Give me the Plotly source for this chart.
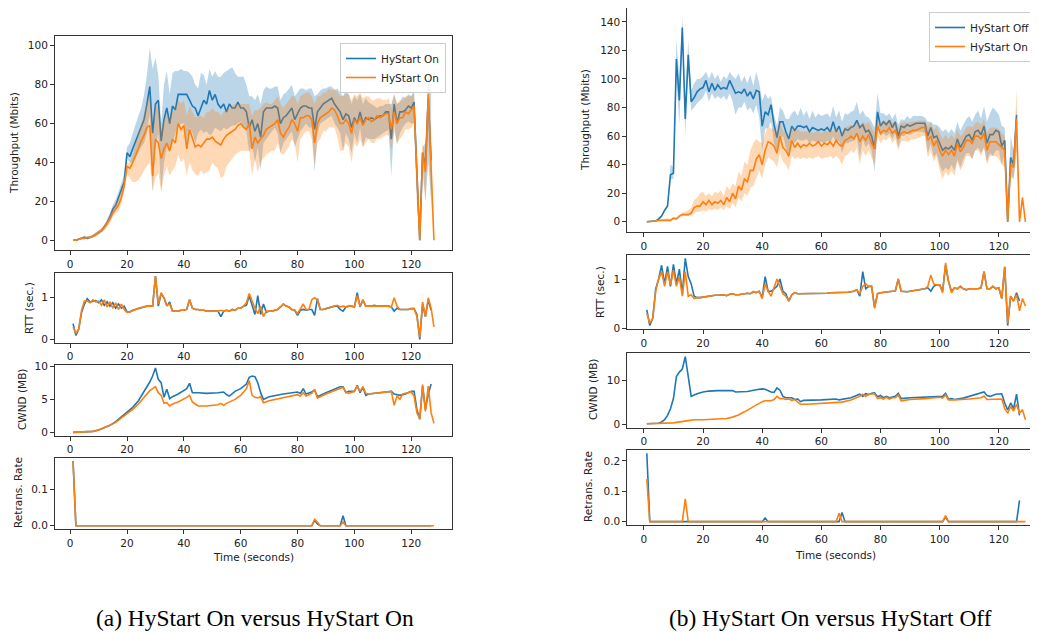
import plotly.graph_objects as go

# ---------------- Panel (a): HyStart On vs HyStart On ----------------
THR_A1_MEAN = [
    0, 0, 0.5, 1, 1.5, 1, 1.5, 2, 3, 4,
    5, 7, 9, 12, 16, 18, 22, 27, 30, 45,
    43, 47, 51, 55, 58, 62, 70, 79, 55, 70,
    72, 51, 62, 68, 60, 69, 67, 75, 75, 75,
    75, 72, 69, 68, 64, 68, 72, 70, 77, 72,
    75, 70, 68, 70, 66, 70, 68, 68, 71, 68,
    68, 66, 58, 62, 56, 60, 53, 66, 68, 68,
    68, 69, 68, 60, 63, 64, 66, 68, 62, 65,
    68, 69, 69, 68, 68, 57, 66, 68, 70, 71,
    72, 73, 70, 68, 66, 62, 65, 64, 58, 63,
    60, 66, 60, 63, 62, 63, 62, 63, 64, 64,
    66, 66, 52, 70, 60, 66, 66, 67, 69, 68,
    71, 35, 0, 45, 38, 73, 41]
THR_A1_HI = [
    0.5, 0.5, 1, 1.5, 2.5, 1.5, 2, 3, 4, 5,
    6, 8, 11, 14, 18, 21, 25, 30, 34, 48,
    50, 55, 60, 64, 68, 75, 85, 99, 88, 94,
    85, 60, 80, 87, 75, 86, 87, 87, 88, 87,
    87, 86, 84, 80, 78, 86, 85, 80, 88, 84,
    87, 84, 84, 86, 87, 88, 89, 86, 84, 84,
    84, 80, 74, 74, 72, 75, 70, 77, 79, 78,
    78, 79, 79, 72, 75, 76, 78, 80, 74, 76,
    78, 78, 77, 78, 78, 74, 75, 77, 78, 78,
    79, 79, 77, 78, 76, 74, 77, 75, 70, 74,
    72, 75, 70, 73, 71, 70, 69, 68, 69, 69,
    70, 70, 70, 75, 70, 71, 74, 73, 75, 74,
    77, 40, 0, 48, 50, 85, 77]
THR_A1_LO = [
    0, 0, 0, 0.5, 1, 0.5, 1, 1.5, 2, 3,
    4, 6, 7.5, 10, 14, 16, 19, 24, 27, 42,
    40, 40, 42, 45, 48, 50, 55, 65, 25, 48,
    55, 25, 40, 48, 45, 50, 55, 58, 60, 60,
    50, 58, 55, 50, 55, 57, 55, 56, 54, 55,
    58, 57, 56, 58, 57, 58, 59, 59, 60, 61,
    58, 56, 45, 50, 40, 48, 36, 50, 52, 54,
    56, 58, 55, 45, 50, 52, 54, 56, 48, 52,
    56, 58, 60, 58, 58, 35, 55, 60, 61, 62,
    63, 64, 60, 58, 55, 46, 55, 52, 45, 55,
    50, 58, 48, 53, 52, 52, 52, 53, 54, 55,
    56, 57, 33, 60, 49, 55, 58, 60, 61, 60,
    60, 20, 0, 40, 20, 40, 20]

THR_A2_MEAN = [
    0, 0, 0.5, 1, 1, 1.5, 1.5, 2, 3, 4,
    5, 6.5, 8.5, 11, 14, 16, 18, 22, 28, 38,
    37, 40, 44, 48, 51, 54, 58, 59, 33, 52,
    50, 42, 47, 50, 46, 52, 50, 60, 57, 59,
    47, 57, 52, 48, 49, 48, 50, 52, 52, 53,
    51, 50, 49, 52, 54, 55, 56, 57, 59, 60,
    58, 57, 60, 47, 53, 50, 52, 54, 57, 58,
    59, 60, 62, 55, 53, 56, 58, 62, 60, 56,
    63, 63, 64, 64, 62, 50, 60, 63, 64, 65,
    66, 68, 67, 64, 60, 60, 62, 60, 55, 62,
    60, 63, 59, 62, 63, 61, 62, 64, 63, 64,
    65, 65, 57, 66, 60, 63, 63, 66, 65, 67,
    69, 35, 0, 45, 35, 75, 40, 0]
THR_A2_HI = [
    0.5, 0.5, 1, 1.5, 1.5, 2, 2, 3, 4, 5,
    6, 8, 10, 13, 16, 19, 22, 26, 31, 40,
    40, 44, 50, 55, 60, 65, 70, 76, 55, 70,
    68, 57, 62, 65, 62, 66, 68, 72, 70, 72,
    64, 69, 66, 63, 64, 64, 63, 66, 66, 68,
    66, 66, 64, 66, 67, 68, 69, 70, 70, 70,
    70, 70, 70, 64, 67, 67, 68, 70, 71, 70,
    70, 72, 74, 70, 68, 70, 72, 74, 74, 70,
    74, 75, 76, 76, 74, 70, 74, 74, 76, 76,
    78, 77, 78, 76, 74, 74, 75, 75, 72, 75,
    74, 76, 73, 74, 74, 72, 72, 73, 73, 72,
    72, 73, 68, 75, 70, 72, 72, 74, 74, 74,
    76, 38, 0, 50, 45, 86, 55, 0]
THR_A2_LO = [
    0, 0, 0, 0.5, 0.5, 1, 1, 1.5, 2, 3,
    4, 5, 7, 9, 12, 14, 15, 19, 25, 34,
    32, 30, 30, 31, 33, 36, 38, 40, 25, 32,
    35, 25, 33, 38, 33, 36, 38, 44, 40, 42,
    33, 40, 36, 34, 33, 36, 34, 35, 36, 40,
    38, 37, 32, 33, 38, 40, 42, 44, 45, 46,
    46, 46, 46, 33, 42, 35, 40, 42, 44, 45,
    46, 46, 50, 45, 44, 46, 48, 52, 50, 40,
    52, 54, 56, 56, 52, 38, 50, 52, 56, 56,
    58, 58, 58, 53, 46, 46, 50, 48, 40, 50,
    48, 52, 48, 50, 52, 50, 50, 52, 52, 53,
    54, 54, 46, 56, 50, 52, 54, 57, 57, 58,
    60, 20, 0, 35, 20, 60, 20, 0]

RTT_A1 = [
    0.38, 0.1, 0.25, 0.65, 0.85, 0.98, 0.9, 0.92, 0.93, 0.88,
    0.95, 0.82, 0.9, 0.8, 0.88, 0.75, 0.85, 0.75, 0.8, 0.66,
    0.66, 0.7, 0.72, 0.75, 0.77, 0.79, 0.8, 0.8, 0.8, 1.52,
    0.8, 1.1, 1.0, 0.8, 0.9, 0.68, 0.68, 0.68, 0.7, 0.7,
    0.72, 0.95, 0.75, 0.72, 0.72, 0.7, 0.7, 0.68, 0.68, 0.68,
    0.68, 0.68, 0.55, 0.68, 0.7, 0.68, 0.72, 0.7, 0.75, 0.75,
    0.8, 0.82, 1.05, 0.85, 0.6, 1.05, 0.6, 0.85, 0.65, 0.68,
    0.68, 0.7, 0.72, 0.78, 0.85, 0.8, 0.78, 0.72, 0.7, 0.58,
    0.7, 0.72, 0.7, 0.72, 0.72, 0.58, 0.98, 0.72, 0.72, 0.74,
    0.76, 0.78, 0.8, 0.8, 0.72, 0.68, 0.78, 0.8, 0.8, 0.78,
    1.12, 0.78, 0.95, 0.8, 0.8, 0.8, 0.82, 0.8, 0.8, 0.8,
    0.8, 0.8, 0.78, 0.68, 0.75, 0.72, 0.72, 0.72, 0.72, 0.74,
    0.74, 0.6, 0.0, 0.85, 0.55, 0.95, 0.7]
RTT_A2 = [
    0.3, 0.15, 0.25, 0.7, 0.92, 0.92, 0.88, 0.95, 0.9, 0.92,
    0.82, 0.95, 0.78, 0.9, 0.75, 0.88, 0.72, 0.85, 0.72, 0.65,
    0.66, 0.7, 0.72, 0.75, 0.77, 0.79, 0.8, 0.8, 0.8, 1.52,
    0.85, 1.12, 1.0, 0.82, 0.85, 0.68, 0.68, 0.68, 0.7, 0.7,
    0.72, 0.95, 0.75, 0.72, 0.72, 0.7, 0.7, 0.68, 0.68, 0.68,
    0.68, 0.68, 0.7, 0.68, 0.7, 0.68, 0.72, 0.7, 0.75, 0.75,
    0.8, 0.88, 1.1, 0.9, 0.75, 0.62, 0.8, 0.55, 0.68, 0.68,
    0.68, 0.7, 0.72, 0.78, 0.85, 0.8, 0.78, 0.72, 0.7, 0.62,
    0.72, 0.85, 0.72, 0.72, 0.95, 1.0, 0.95, 0.72, 0.72, 0.74,
    0.76, 0.78, 0.8, 0.82, 0.78, 0.8, 0.78, 0.8, 0.8, 0.78,
    1.05, 0.8, 0.95, 0.8, 0.8, 0.8, 0.8, 0.8, 0.8, 0.8,
    0.8, 0.8, 0.78, 1.0, 0.8, 0.72, 0.72, 0.72, 0.72, 0.74,
    0.74, 0.55, 0.05, 0.9, 0.55, 1.0, 0.75, 0.3]

CWND_A1_T = [1, 5, 8, 10, 12, 14, 16, 18, 20, 22, 24, 26, 28, 29, 30, 31, 32, 33, 34, 35,
             36, 38, 40, 41, 42, 43, 45, 48, 52, 54, 55, 56, 58, 60, 62, 63, 64, 65, 66, 67,
             68, 70, 75, 80, 81, 82, 83, 85, 86, 87, 90, 95, 96, 97, 98, 100, 101, 102, 103, 104,
             105, 110, 113, 114, 116, 118, 120, 121, 122, 123, 124, 125, 126, 127]
CWND_A1 = [0.05, 0.1, 0.2, 0.4, 0.7, 1.1, 1.65, 2.35, 3.05, 3.8, 4.8, 6.1, 7.6, 8.5, 9.7, 8.0, 7.5, 5.3, 6.5, 5.1,
           5.4, 5.8, 6.3, 6.6, 7.4, 6.0, 6.0, 5.9, 6.0, 6.1, 5.7, 5.5, 6.2, 6.6, 7.3, 8.3, 8.5, 8.4, 7.5, 6.0,
           5.0, 5.4, 5.8, 6.1, 5.9, 6.6, 5.8, 6.1, 6.4, 5.4, 6.0, 6.9, 6.9, 6.0, 6.2, 6.2, 7.1, 6.0, 6.8, 5.6,
           5.8, 6.0, 6.2, 5.8, 5.6, 5.8, 6.2, 6.2, 3.5, 2.0, 7.0, 3.5, 5.8, 7.3]
CWND_A2_T = [1, 5, 8, 10, 12, 14, 16, 18, 20, 22, 24, 26, 28, 29, 30, 31, 32, 33, 34, 35,
             36, 38, 40, 41, 42, 43, 44, 45, 48, 52, 53, 54, 55, 58, 60, 62, 63, 64, 65, 66,
             67, 68, 70, 75, 80, 81, 82, 83, 85, 86, 87, 90, 95, 96, 97, 98, 100, 101, 102, 103,
             104, 105, 113, 114, 115, 116, 117, 119, 120, 121, 122, 123, 124, 125, 126, 127, 128]
CWND_A2 = [0.05, 0.1, 0.2, 0.4, 0.7, 1.1, 1.55, 2.2, 2.8, 3.5, 4.3, 5.3, 6.3, 6.6, 6.9, 6.0, 5.6, 4.4, 4.5, 4.0,
           4.3, 4.6, 5.0, 5.3, 5.6, 4.6, 4.3, 4.0, 4.0, 4.2, 4.4, 4.1, 4.4, 5.0, 5.6, 6.6, 7.8, 5.6, 5.3, 5.2,
           5.4, 4.5, 4.8, 5.3, 5.7, 5.5, 6.0, 5.5, 5.9, 6.5, 5.2, 5.8, 6.6, 6.8, 6.1, 5.9, 6.2, 7.0, 6.2, 6.9,
           5.9, 5.8, 6.2, 4.1, 5.5, 5.0, 5.8, 6.0, 6.1, 5.5, 3.0, 2.1, 7.2, 3.2, 7.0, 3.0, 1.4]

RET_A1_T = [1, 2, 85, 86, 87, 88, 95, 96, 97, 127]
RET_A1 = [0.18, 0, 0, 0.015, 0.005, 0, 0, 0.028, 0, 0]
RET_A2_T = [1, 2, 85, 86, 87, 88, 95, 96, 97, 128]
RET_A2 = [0.18, 0, 0, 0.018, 0.01, 0, 0, 0.01, 0, 0]

# ---------------- Panel (b): HyStart Off vs HyStart On ----------------
THR_B1_MEAN = [
    0, 0, 0, 0.5, 2, 4, 8, 11, 33, 34,
    114, 85, 136, 72, 117, 84, 87, 91, 93, 94,
    99, 91, 97, 92, 96, 93, 94, 93, 99, 94,
    90, 91, 90, 93, 88, 91, 86, 92, 91, 67,
    77, 75, 82, 68, 59, 70, 70, 63, 58, 67,
    64, 67, 67, 66, 67, 63, 66, 65, 64, 65,
    64, 66, 63, 70, 63, 67, 60, 65, 64, 66,
    67, 71, 66, 68, 63, 64, 60, 51, 77, 67,
    70, 68, 71, 66, 70, 60, 67, 66, 68, 67,
    68, 69, 69, 69, 69, 60, 66, 59, 60, 55,
    50, 52, 51, 53, 50, 58, 52, 56, 60, 61,
    57, 63, 64, 61, 67, 55, 61, 61, 64, 63,
    53, 57, 0, 45, 40, 75]
THR_B1_HI = [
    0.5, 0.5, 0.5, 1, 3, 5, 9, 12, 40, 38,
    128, 100, 143, 85, 127, 92, 97, 100, 100, 102,
    105, 100, 105, 100, 103, 98, 102, 100, 105, 102,
    100, 104, 98, 102, 97, 103, 95, 105, 97, 85,
    90, 86, 88, 75, 67, 80, 78, 72, 72, 76,
    78, 74, 80, 74, 78, 72, 78, 73, 76, 74,
    75, 76, 73, 81, 73, 78, 70, 76, 75, 77,
    78, 84, 75, 78, 74, 73, 70, 66, 90, 76,
    76, 74, 76, 72, 76, 68, 72, 71, 74, 72,
    74, 74, 74, 74, 73, 70, 70, 68, 68, 66,
    63, 65, 62, 65, 62, 70, 64, 68, 72, 74,
    70, 75, 78, 72, 81, 70, 76, 80, 78, 75,
    67, 66, 0, 60, 50, 80]
THR_B1_LO = [
    0, 0, 0, 0, 1, 3, 7, 10, 30, 30,
    100, 68, 128, 60, 105, 78, 80, 83, 85, 87,
    92, 84, 90, 86, 88, 86, 88, 85, 90, 84,
    75, 80, 80, 84, 78, 80, 76, 82, 73, 49,
    65, 66, 70, 55, 48, 58, 60, 52, 45, 58,
    55, 58, 57, 57, 58, 55, 57, 56, 55, 56,
    55, 57, 55, 60, 55, 57, 48, 55, 55, 56,
    57, 60, 45, 58, 52, 55, 50, 35, 65, 60,
    62, 60, 62, 58, 62, 52, 60, 60, 62, 61,
    62, 63, 63, 63, 62, 48, 55, 45, 48, 40,
    35, 38, 36, 40, 36, 44, 38, 44, 48, 48,
    44, 50, 52, 48, 52, 42, 48, 46, 50, 50,
    40, 48, 0, 32, 30, 50]

THR_B2_MEAN = [
    0, 0, 0, 0.5, 1, 1, 1, 1.5, 1, 2.5,
    2, 4, 5, 5, 5, 6, 10, 11, 11, 14,
    12, 15, 12, 14, 13, 15, 12, 17, 14, 20,
    16, 25, 22, 30, 28, 36, 36, 44, 47, 40,
    50, 56, 55, 53, 48, 60, 52, 50, 46, 57,
    52, 55, 52, 54, 53, 55, 53, 54, 56, 53,
    55, 54, 56, 53, 57, 54, 53, 57, 58, 60,
    58, 62, 56, 60, 57, 61, 55, 51, 67, 62,
    64, 63, 66, 62, 64, 58, 62, 63, 62, 63,
    64, 64, 65, 66, 66, 57, 60, 53, 57, 50,
    46, 50, 47, 50, 46, 55, 49, 52, 57, 57,
    55, 60, 60, 58, 62, 50, 56, 56, 56, 54,
    52, 50, 0, 40, 38, 72, 0, 17, 0]
THR_B2_HI = [
    0.5, 0.5, 0.5, 1, 1.5, 2, 2, 2.5, 2, 3.5,
    3, 5, 6.5, 7, 8, 10, 15, 17, 20, 21,
    18, 20, 18, 21, 20, 22, 18, 25, 22, 27,
    25, 35, 32, 42, 40, 50, 55, 58, 56, 55,
    62, 68, 65, 66, 62, 70, 64, 62, 58, 67,
    64, 65, 63, 63, 63, 64, 62, 63, 64, 62,
    64, 63, 65, 63, 66, 63, 62, 66, 67, 68,
    67, 70, 67, 70, 68, 70, 66, 62, 72, 69,
    71, 70, 72, 69, 70, 66, 69, 70, 69, 70,
    70, 70, 71, 71, 71, 67, 70, 64, 67, 62,
    58, 61, 58, 61, 58, 65, 60, 62, 66, 67,
    66, 69, 70, 68, 72, 62, 66, 66, 66, 65,
    62, 60, 0, 45, 45, 93, 0, 18, 0]
THR_B2_LO = [
    0, 0, 0, 0, 0.5, 0.5, 0.5, 1, 0.5, 1.5,
    1, 3, 4, 4, 4, 4, 6, 7, 7, 8,
    7, 9, 8, 9, 8, 10, 8, 11, 9, 13,
    10, 17, 14, 20, 18, 24, 25, 30, 36, 30,
    40, 45, 44, 42, 38, 48, 42, 40, 36, 46,
    44, 45, 44, 45, 44, 45, 44, 45, 46, 44,
    45, 45, 46, 44, 46, 44, 40, 46, 47, 50,
    48, 52, 40, 50, 46, 50, 45, 40, 60, 55,
    58, 57, 60, 55, 58, 50, 56, 57, 56, 57,
    58, 58, 59, 60, 60, 45, 50, 42, 46, 36,
    30, 35, 32, 36, 32, 42, 36, 40, 46, 46,
    44, 50, 50, 46, 52, 40, 46, 46, 46, 44,
    40, 38, 0, 35, 30, 50, 0, 16, 0]

RTT_B1 = [
    0.37, 0.05, 0.2, 0.8, 1.0, 1.28, 0.9, 1.26, 0.85, 1.3,
    0.9, 1.2, 0.7, 1.42, 1.05, 0.9, 0.65, 0.62, 0.62, 0.63,
    0.64, 0.65, 0.67, 0.67, 0.67, 0.68, 0.68, 0.66, 0.69, 0.7,
    0.68, 0.68, 0.69, 0.7, 0.71, 0.7, 0.74, 0.72, 0.75, 0.62,
    1.05, 0.75, 0.75, 0.8, 0.85, 1.0, 0.75, 0.7, 0.55, 0.68,
    0.72, 0.7, 0.7, 0.7, 0.7, 0.7, 0.7, 0.7, 0.7, 0.7,
    0.71, 0.71, 0.72, 0.72, 0.72, 0.72, 0.73, 0.73, 0.73, 0.74,
    0.75, 0.78, 0.65, 1.15, 0.8, 0.85, 0.85, 0.42, 0.7, 0.72,
    0.73, 0.74, 0.75, 0.75, 0.75, 1.0, 0.75, 0.74, 0.74, 0.75,
    0.76, 0.76, 0.78, 0.78, 0.8, 0.82, 0.75, 0.85, 0.88, 0.88,
    0.75, 1.28, 0.95, 0.75, 0.82, 0.8, 0.85, 0.8, 0.78, 0.8,
    0.8, 0.8, 0.8, 0.82, 1.15, 0.8, 0.8, 0.85, 0.8, 0.82,
    0.6, 1.25, 0.05, 0.65, 0.55, 0.72, 0.55]
RTT_B2 = [
    0.3, 0.1, 0.2, 0.75, 1.0, 1.15, 0.85, 1.15, 0.88, 1.18,
    0.85, 1.05, 0.65, 1.15, 0.65, 0.68, 0.6, 0.62, 0.62, 0.63,
    0.64, 0.65, 0.67, 0.67, 0.67, 0.68, 0.68, 0.66, 0.69, 0.7,
    0.68, 0.68, 0.69, 0.7, 0.71, 0.7, 0.74, 0.72, 0.75, 0.6,
    0.9, 0.75, 0.65, 0.82, 1.0, 0.85, 0.7, 0.65, 0.55, 0.68,
    0.72, 0.7, 0.7, 0.7, 0.7, 0.7, 0.7, 0.7, 0.7, 0.7,
    0.71, 0.71, 0.72, 0.72, 0.72, 0.72, 0.73, 0.73, 0.73, 0.74,
    0.75, 0.78, 0.7, 0.85, 0.9, 0.85, 0.85, 0.4, 0.7, 0.72,
    0.73, 0.74, 0.75, 0.75, 0.75, 1.0, 0.75, 0.74, 0.74, 0.75,
    0.76, 0.76, 0.78, 0.78, 0.8, 0.85, 1.08, 0.9, 0.88, 0.88,
    0.72, 1.33, 0.95, 0.72, 0.82, 0.8, 0.85, 0.8, 0.78, 0.8,
    0.8, 0.8, 0.8, 0.82, 1.15, 0.8, 0.8, 0.85, 0.8, 0.82,
    0.6, 1.25, 0.1, 0.65, 0.55, 0.68, 0.35, 0.6, 0.45]

CWND_B1_T = [1, 4, 5, 6, 7, 8, 9, 10, 11, 12, 13, 14, 15, 16, 17, 18, 20, 22, 25, 30,
             31, 35, 38, 40, 41, 43, 44, 45, 46, 47, 48, 50, 51, 52, 53, 54, 60, 65, 66, 70,
             73, 74, 75, 76, 77, 78, 79, 80, 81, 82, 83, 84, 85, 86, 87, 90, 95, 100, 101, 102,
             103, 104, 105, 108, 115, 116, 117, 119, 121, 122, 123, 124, 125, 126, 127]
CWND_B1 = [0.1, 0.1, 0.2, 0.5, 1.0, 2.0, 3.5, 5.8, 10.8, 11.8, 12.5, 15.3, 11.0, 6.3, 6.6, 6.9, 7.3, 7.5, 7.6, 7.6,
           7.3, 7.4, 7.8, 8.0, 7.9, 7.3, 7.2, 8.2, 7.7, 6.3, 6.0, 6.0, 5.6, 5.7, 5.1, 5.4, 5.5, 5.7, 5.5, 6.0,
           6.8, 6.3, 6.9, 6.7, 7.0, 7.1, 6.2, 6.5, 6.0, 6.3, 6.0, 6.1, 6.3, 7.0, 5.8, 6.0, 6.2, 6.4, 6.3, 7.0,
           5.7, 5.8, 5.6, 5.9, 7.3, 6.5, 6.3, 6.8, 6.9, 4.8, 3.2, 4.8, 3.5, 6.8, 2.0]
CWND_B2_T = [1, 5, 10, 15, 17, 20, 25, 28, 30, 32, 34, 36, 38, 40, 41, 43, 44, 45, 46, 47,
             48, 49, 50, 51, 52, 53, 55, 60, 65, 67, 70, 73, 74, 75, 76, 77, 78, 79, 80, 81,
             82, 83, 84, 85, 86, 87, 90, 95, 100, 101, 102, 103, 105, 110, 114, 115, 116, 121, 122, 123,
             124, 125, 126, 127, 128, 129]
CWND_B2 = [0.1, 0.15, 0.3, 0.8, 1.0, 1.0, 1.1, 1.3, 1.6, 2.1, 2.8, 3.6, 4.4, 5.1, 5.3, 5.3, 5.6, 6.3, 5.8, 5.8,
           5.6, 5.7, 5.4, 5.6, 5.0, 4.5, 4.5, 4.7, 5.0, 5.0, 5.5, 6.3, 6.8, 6.3, 6.8, 6.8, 6.9, 5.8, 6.0, 5.7,
           6.1, 5.7, 6.0, 6.0, 6.6, 5.3, 5.6, 5.8, 6.1, 5.9, 6.6, 5.5, 5.5, 5.7, 6.0, 6.4, 5.6, 5.7, 3.5, 2.5,
           4.0, 3.0, 4.5, 2.5, 3.3, 1.0]

RET_B1_T = [1, 2, 40, 41, 42, 66, 67, 68, 101, 102, 103, 126, 127]
RET_B1 = [0.225, 0, 0, 0.012, 0, 0, 0.03, 0, 0, 0.015, 0, 0, 0.07]
RET_B2_T = [1, 2, 13, 14, 15, 65, 66, 67, 101, 102, 103, 129]
RET_B2 = [0.14, 0, 0, 0.075, 0, 0, 0.028, 0, 0, 0.02, 0, 0]

X_TICKS = [0, 20, 40, 60, 80, 100, 120]
LEGEND_A = ["HyStart On", "HyStart On"]
LEGEND_B = ["HyStart Off", "HyStart On"]
YLABELS = ["Throughput (Mbits)", "RTT (sec.)", "CWND (MB)", "Retrans. Rate"]
XLABEL = "Time (seconds)"
CAPTIONS = ["(a) HyStart On versus HyStart On", "(b) HyStart On versus HyStart Off"]

# ---------------- styling ----------------
# The page body has an 8px margin, so the figure is drawn 8px in from the
# top-left corner of the window; screen coordinates are converted below.
SCREEN_W, SCREEN_H = 1038, 632
OFF = 8
W, H = SCREEN_W - OFF, SCREEN_H - OFF
BLUE, ORANGE = "#1f77b4", "#ff7f0e"
BLUE_FILL, ORANGE_FILL = "rgba(31,119,180,0.3)", "rgba(255,127,14,0.3)"
FONT = "DejaVu Sans"
LW = 1.6


def px_x(px):
    return min(max((px - OFF) / W, 0.0), 1.0)


def px_y(py):
    return min(max(1 - (py - OFF) / H, 0.0), 1.0)


def seq(vals):
    return list(range(1, len(vals) + 1))


def axname(i, kind):
    return kind if i == 1 else f"{kind}{i}"


fig = go.Figure()


def band(i, t, lo, hi, fill):
    fig.add_trace(go.Scatter(x=t, y=lo, xaxis=axname(i, "x"), yaxis=axname(i, "y"), mode="lines",
                             line=dict(width=0, color=fill), showlegend=False, hoverinfo="skip"))
    fig.add_trace(go.Scatter(x=t, y=hi, xaxis=axname(i, "x"), yaxis=axname(i, "y"), mode="lines",
                             line=dict(width=0, color=fill), fill="tonexty", fillcolor=fill,
                             showlegend=False, hoverinfo="skip"))


def line(i, t, y, color, name=None, legend=None):
    fig.add_trace(go.Scatter(x=t, y=y, xaxis=axname(i, "x"), yaxis=axname(i, "y"), mode="lines",
                             line=dict(width=LW, color=color), name=name or "",
                             showlegend=name is not None, legend=legend or "legend"))


# Panel (a)
band(1, seq(THR_A1_MEAN), THR_A1_LO, THR_A1_HI, BLUE_FILL)
line(1, seq(THR_A1_MEAN), THR_A1_MEAN, BLUE, LEGEND_A[0], "legend")
band(1, seq(THR_A2_MEAN), THR_A2_LO, THR_A2_HI, ORANGE_FILL)
line(1, seq(THR_A2_MEAN), THR_A2_MEAN, ORANGE, LEGEND_A[1], "legend")
line(2, seq(RTT_A1), RTT_A1, BLUE)
line(2, seq(RTT_A2), RTT_A2, ORANGE)
line(3, CWND_A1_T, CWND_A1, BLUE)
line(3, CWND_A2_T, CWND_A2, ORANGE)
line(4, RET_A1_T, RET_A1, BLUE)
line(4, RET_A2_T, RET_A2, ORANGE)

# Panel (b)
band(5, seq(THR_B1_MEAN), THR_B1_LO, THR_B1_HI, BLUE_FILL)
line(5, seq(THR_B1_MEAN), THR_B1_MEAN, BLUE, LEGEND_B[0], "legend2")
band(5, seq(THR_B2_MEAN), THR_B2_LO, THR_B2_HI, ORANGE_FILL)
line(5, seq(THR_B2_MEAN), THR_B2_MEAN, ORANGE, LEGEND_B[1], "legend2")
line(6, seq(RTT_B1), RTT_B1, BLUE)
line(6, seq(RTT_B2), RTT_B2, ORANGE)
line(7, CWND_B1_T, CWND_B1, BLUE)
line(7, CWND_B2_T, CWND_B2, ORANGE)
line(8, RET_B1_T, RET_B1, BLUE)
line(8, RET_B2_T, RET_B2, ORANGE)


tickfont = dict(family=FONT, size=10.5, color="#222")
base = dict(showline=True, linecolor="#333", linewidth=1, ticks="outside", ticklen=4,
            tickcolor="#333", tickwidth=1, tickfont=tickfont, showgrid=False, zeroline=False,
            automargin=False)

panels = [
    # (axis index, x-left, x-right, top, bottom, yrange, yticks, fmt, xrange, ymirror)
    (1, 55, 452, 36, 250, [-5, 105], [0, 20, 40, 60, 80, 100], None, [-5.35, 134.35], True),
    (2, 55, 452, 272.7, 342.7, [-0.076, 1.6], [0, 1], None, [-5.35, 134.35], True),
    (3, 55, 452, 365, 435.7, [-0.45, 10.15], [0, 5, 10], None, [-5.35, 134.35], True),
    (4, 55, 452, 457.7, 529, [-0.009, 0.189], [0, 0.1], ".1f", [-5.35, 134.35], True),
    (5, 627.3, 1038, 8, 232, [-7.15, 149.7], [0, 20, 40, 60, 80, 100, 120, 140], None, [-5.6, 133.25], False),
    (6, 627.3, 1038, 255, 329, [-0.02, 1.49], [0, 1], None, [-5.6, 133.25], False),
    (7, 627.3, 1038, 352.7, 427.7, [-0.8, 16.2], [0, 10], None, [-5.6, 133.25], False),
    (8, 627.3, 1038, 450, 525, [-0.011, 0.236], [0, 0.1, 0.2], ".1f", [-5.6, 133.25], False),
]

layout_axes = {}
for i, l, r, top, bot, yr, yt, fmt, xr, ymir in panels:
    xk = "xaxis" if i == 1 else f"xaxis{i}"
    yk = "yaxis" if i == 1 else f"yaxis{i}"
    layout_axes[xk] = dict(base, domain=[px_x(l), px_x(r)], range=xr, tickvals=X_TICKS,
                           anchor=axname(i, "y"), mirror=True)
    yd = dict(base, domain=[px_y(bot), px_y(top)], range=yr, tickvals=yt,
              anchor=axname(i, "x"), mirror=ymir)
    if fmt:
        yd["tickformat"] = fmt
    layout_axes[yk] = yd

annotations = []


def label(text, px, py, angle=0, size=10.5, family=FONT, color="#222"):
    annotations.append(dict(text=text, x=px_x(px), y=px_y(py), xref="paper", yref="paper",
                            xanchor="center", yanchor="middle", showarrow=False,
                            textangle=angle, font=dict(family=family, size=size, color=color)))


# y-axis titles panel (a)
label(YLABELS[0], 14, 143, -90)
label(YLABELS[1], 29, 308, -90)
label(YLABELS[2], 22, 400, -90)
label(YLABELS[3], 18, 493, -90)
label(XLABEL, 253, 557)
# panel (b)
label(YLABELS[0], 585, 120, -90)
label(YLABELS[1], 600, 292, -90)
label(YLABELS[2], 593, 390, -90)
label(YLABELS[3], 588, 487, -90)
label(XLABEL, 835, 555)
# captions
label(CAPTIONS[0], 255, 618, 0, 23.4, "Liberation Serif", "#000")
label(CAPTIONS[1], 830, 618, 0, 23.4, "Liberation Serif", "#000")

legend_style = dict(bgcolor="rgba(255,255,255,0.8)", bordercolor="#cccccc", borderwidth=1,
                    font=dict(family=FONT, size=10.5, color="#222"), xanchor="right",
                    yanchor="top", tracegroupgap=0, traceorder="normal")

fig.update_layout(
    template="none",
    width=W, height=H, margin=dict(l=0, r=0, t=0, b=0),
    paper_bgcolor="white", plot_bgcolor="white",
    showlegend=True,
    legend=dict(legend_style, x=px_x(446), y=px_y(43)),
    legend2=dict(legend_style, x=px_x(1036), y=px_y(12)),
    annotations=annotations,
    **layout_axes,
)

fig.write_html("out.html")
